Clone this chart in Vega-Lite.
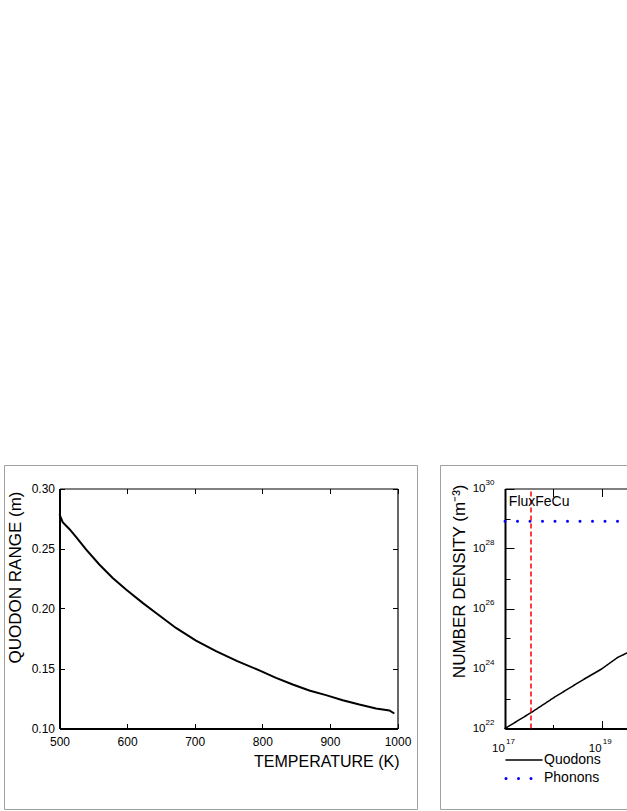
{
  "$schema": "https://vega.github.io/schema/vega-lite/v6.json",
  "padding": {"left": 3, "top": 464, "right": 0, "bottom": 3},
  "background": "white",
  "spacing": 23,
  "bounds": "flush",
  "config": {
    "font": "Liberation Sans",
    "view": {"stroke": "#a0a0a0", "strokeWidth": 1},
    "axis": {
      "domainColor": "black",
      "tickColor": "black",
      "labelColor": "black",
      "titleColor": "black",
      "labelFontSize": 12,
      "titleFontSize": 16,
      "titleFontWeight": "normal",
      "grid": false,
      "labelOverlap": false,
      "labelFlush": false,
      "tickWidth": 1
    },
    "legend": {
      "orient": "none", "legendX": 504, "legendY": 288, "title": null,
      "symbolType": "M-2,0H2", "symbolSize": 324, "symbolStrokeWidth": 2,
      "symbolOffset": 9, "labelOffset": 13,
      "labelFontSize": 14, "labelColor": "black",
      "padding": 0, "rowPadding": 4.4
    }
  },
  "datasets": {
    "range": [
      {"T": 500, "r": 0.2785},
      {"T": 504.7, "r": 0.2719},
      {"T": 514.5, "r": 0.2663},
      {"T": 524.4, "r": 0.2597},
      {"T": 539.2, "r": 0.2492},
      {"T": 558.9, "r": 0.2367},
      {"T": 578.7, "r": 0.2255},
      {"T": 598.4, "r": 0.2158},
      {"T": 623, "r": 0.2047},
      {"T": 642.8, "r": 0.1963},
      {"T": 672.3, "r": 0.1838},
      {"T": 701.9, "r": 0.1733},
      {"T": 731.5, "r": 0.1644},
      {"T": 763, "r": 0.1561},
      {"T": 795.6, "r": 0.1484},
      {"T": 820.3, "r": 0.1422},
      {"T": 845, "r": 0.1367},
      {"T": 869.5, "r": 0.1317},
      {"T": 894.2, "r": 0.1278},
      {"T": 919, "r": 0.1236},
      {"T": 943.5, "r": 0.12},
      {"T": 968.2, "r": 0.1167},
      {"T": 988, "r": 0.115},
      {"T": 995.3, "r": 0.1125}
    ],
    "density": [
      {"series": "Quodons", "x": 1e17, "y": 1e22},
      {"series": "Quodons", "x": 3.55e17, "y": 3.47e22},
      {"series": "Quodons", "x": 1.05e18, "y": 1.1e23},
      {"series": "Quodons", "x": 4.37e18, "y": 4.47e23},
      {"series": "Quodons", "x": 9.8e18, "y": 9.5e23},
      {"series": "Quodons", "x": 2.14e19, "y": 2.34e24},
      {"series": "Quodons", "x": 3.47e19, "y": 3.39e24},
      {"series": "Quodons", "x": 1e20, "y": 8.9e24},
      {"series": "Phonons", "x": 1e17, "y": 8.1e28},
      {"series": "Phonons", "x": 1e24, "y": 8.1e28}
    ],
    "flux": [
      {"x": 3.45e17, "y": 1e22, "y2": 1e30}
    ],
    "annot": [
      {"label": "FluxFeCu", "x": 1.2e17, "y": 2.6e29}
    ]
  },
  "hconcat": [
    {
      "width": 413,
      "height": 344,
      "data": {"name": "range"},
      "resolve": {"axis": {"x": "independent", "y": "independent"}},
      "layer": [
        {
          "mark": {"type": "line", "color": "black", "strokeWidth": 2},
          "encoding": {
            "x": {
              "field": "T", "type": "quantitative",
              "scale": {"domain": [500, 1000], "range": [55.5, 393.5], "nice": false, "zero": false},
              "axis": {
                "orient": "bottom", "offset": -80.5,
                "values": [500, 600, 700, 800, 900, 1000], "format": "d",
                "tickSize": -5, "domainWidth": 2, "labelPadding": 12.5,
                "title": "TEMPERATURE (K)", "titleAlign": "right", "titleBaseline": "alphabetic",
                "titleX": 395, "titleY": 37.5
              }
            },
            "y": {
              "field": "r", "type": "quantitative",
              "scale": {"domain": [0.1, 0.3], "range": [263.5, 23.5], "nice": false, "zero": false},
              "axis": {
                "orient": "left", "offset": -55.5,
                "values": [0.1, 0.15, 0.2, 0.25, 0.3], "format": ".2f",
                "tickSize": -5, "domainWidth": 2, "labelPadding": 10,
                "title": "QUODON RANGE (m)", "titleFontSize": 17, "titleAngle": 270,
                "titleAlign": "right", "titleBaseline": "alphabetic",
                "titleX": -39.2, "titleY": 26
              }
            }
          }
        },
        {
          "mark": {"type": "line", "strokeOpacity": 0},
          "encoding": {
            "x": {
              "field": "T", "type": "quantitative",
              "scale": {"domain": [500, 1000], "range": [55.5, 393.5], "nice": false, "zero": false},
              "axis": {
                "orient": "top", "offset": -23.5,
                "values": [500, 600, 700, 800, 900, 1000],
                "tickSize": -5, "domainWidth": 1, "labels": false, "title": null
              }
            },
            "y": {
              "field": "r", "type": "quantitative",
              "scale": {"domain": [0.1, 0.3], "range": [263.5, 23.5], "nice": false, "zero": false},
              "axis": {
                "orient": "right", "offset": -19.5,
                "values": [0.1, 0.15, 0.2, 0.25, 0.3],
                "tickSize": -5, "domainWidth": 1.2, "labels": false, "title": null
              }
            }
          }
        }
      ]
    },
    {
      "width": 413,
      "height": 344,
      "resolve": {"axis": {"x": "independent", "y": "independent"}},
      "layer": [
        {
          "data": {"name": "density"},
          "transform": [{"filter": "datum.series == 'Quodons'"}],
          "mark": {"type": "line", "strokeWidth": 1.5, "strokeCap": "round"},
          "encoding": {
            "x": {
              "field": "x", "type": "quantitative",
              "scale": {"type": "log", "domain": [1e17, 1e24], "range": [65, 403.5], "nice": false},
              "axis": {
                "orient": "bottom", "offset": -80.5,
                "values": [1e17, 1e18, 1e19, 1e20, 1e21, 1e22, 1e23, 1e24],
                "labelExpr": "round(log(datum.value)/LN10) % 2 == 1 ? '10' : ''",
                "tickSize": {"condition": {"test": "round(log(datum.value)/LN10) % 2 == 1", "value": -8}, "value": -4},
                "domainWidth": 2, "labelPadding": 21.5, "labelFontSize": 11.5, "labelOffset": -7, "title": null
              }
            },
            "y": {
              "field": "y", "type": "quantitative",
              "scale": {"type": "log", "domain": [1e22, 1e30], "range": [263.5, 23.5], "nice": false},
              "axis": {
                "orient": "left", "offset": -65,
                "values": [1e22, 1e23, 1e24, 1e25, 1e26, 1e27, 1e28, 1e29, 1e30],
                "labelExpr": "round(log(datum.value)/LN10) % 2 == 0 ? '10' : ''",
                "tickSize": {"condition": {"test": "round(log(datum.value)/LN10) % 2 == 0", "value": -9}, "value": -5},
                "domainWidth": 2, "labelPadding": 29, "labelFontSize": 11.5,
                "title": "NUMBER DENSITY (m⁻³)", "titleFontSize": 17, "titleAngle": 270,
                "titleAlign": "right", "titleBaseline": "alphabetic",
                "titleX": -40.7, "titleY": 19
              }
            },
            "color": {
              "field": "series", "type": "nominal",
              "scale": {"domain": ["Quodons", "Phonons"], "range": ["black", "#0000ff"]},
              "legend": {"encode": {"symbols": {"update": {"strokeCap": {"value": "round"}, "strokeWidth": {"signal": "datum.value == 'Phonons' ? 3 : 1.5"}}}}}
            },
            "strokeDash": {
              "field": "series", "type": "nominal",
              "scale": {"domain": ["Quodons", "Phonons"], "range": [[1, 0], [0, 12.5]]},
              "legend": {"encode": {"symbols": {"update": {"strokeCap": {"value": "round"}, "strokeWidth": {"signal": "datum.value == 'Phonons' ? 3 : 1.5"}}}}}
            }
          }
        },
        {
          "data": {"name": "density"},
          "transform": [{"filter": "datum.series == 'Phonons'"}],
          "mark": {"type": "line", "strokeWidth": 3, "strokeCap": "round"},
          "encoding": {
            "x": {"field": "x", "type": "quantitative", "scale": {"type": "log", "domain": [1e17, 1e24], "range": [65, 403.5], "nice": false}, "axis": null},
            "y": {"field": "y", "type": "quantitative", "scale": {"type": "log", "domain": [1e22, 1e30], "range": [263.5, 23.5], "nice": false}, "axis": null},
            "color": {
              "field": "series", "type": "nominal",
              "scale": {"domain": ["Quodons", "Phonons"], "range": ["black", "#0000ff"]},
              "legend": {"encode": {"symbols": {"update": {"strokeCap": {"value": "round"}, "strokeWidth": {"signal": "datum.value == 'Phonons' ? 3 : 1.5"}}}}}
            },
            "strokeDash": {
              "field": "series", "type": "nominal",
              "scale": {"domain": ["Quodons", "Phonons"], "range": [[1, 0], [0, 12.5]]},
              "legend": {"encode": {"symbols": {"update": {"strokeCap": {"value": "round"}, "strokeWidth": {"signal": "datum.value == 'Phonons' ? 3 : 1.5"}}}}}
            }
          }
        },
        {
          "data": {"name": "flux"},
          "mark": {"type": "rule", "color": "#ff0000", "strokeWidth": 1.5, "strokeDash": [5, 3]},
          "encoding": {
            "x": {"field": "x", "type": "quantitative", "scale": {"type": "log", "domain": [1e17, 1e24], "range": [65, 403.5], "nice": false}, "axis": null},
            "y": {"field": "y", "type": "quantitative", "scale": {"type": "log", "domain": [1e22, 1e30], "range": [263.5, 23.5], "nice": false}, "axis": null},
            "y2": {"field": "y2"}
          }
        },
        {
          "data": {"name": "annot"},
          "mark": {"type": "text", "align": "left", "baseline": "alphabetic", "fontSize": 14, "color": "black"},
          "encoding": {
            "x": {"field": "x", "type": "quantitative", "scale": {"type": "log", "domain": [1e17, 1e24], "range": [65, 403.5], "nice": false}, "axis": null},
            "y": {"field": "y", "type": "quantitative", "scale": {"type": "log", "domain": [1e22, 1e30], "range": [263.5, 23.5], "nice": false}, "axis": null},
            "text": {"field": "label"}
          }
        },
        {
          "data": {"name": "density"},
          "mark": {"type": "line", "strokeOpacity": 0},
          "encoding": {
            "x": {
              "field": "x", "type": "quantitative",
              "scale": {"type": "log", "domain": [1e17, 1e24], "range": [65, 403.5], "nice": false},
              "axis": {
                "orient": "bottom", "offset": -80.5,
                "values": [1e17, 1e19, 1e21, 1e23],
                "labelExpr": "format(round(log(datum.value)/LN10), 'd')",
                "ticks": false, "domain": false, "labelAlign": "left", "labelOffset": 0.5,
                "labelPadding": 9, "labelFontSize": 8, "title": null
              }
            },
            "y": {
              "field": "y", "type": "quantitative",
              "scale": {"type": "log", "domain": [1e22, 1e30], "range": [263.5, 23.5], "nice": false},
              "axis": {
                "orient": "left", "offset": -65,
                "values": [1e22, 1e24, 1e26, 1e28, 1e30],
                "labelExpr": "format(round(log(datum.value)/LN10), 'd')",
                "ticks": false, "domain": false, "labelOffset": -6,
                "labelPadding": 11, "labelFontSize": 8, "title": null
              }
            }
          }
        },
        {
          "data": {"name": "density"},
          "mark": {"type": "line", "strokeOpacity": 0},
          "encoding": {
            "x": {
              "field": "x", "type": "quantitative",
              "scale": {"type": "log", "domain": [1e17, 1e24], "range": [65, 403.5], "nice": false},
              "axis": {
                "orient": "top", "offset": -23.5,
                "values": [1e17, 1e18, 1e19, 1e20, 1e21, 1e22, 1e23, 1e24],
                "tickSize": -8, "domainWidth": 1, "labels": false, "title": null
              }
            },
            "y": {
              "field": "y", "type": "quantitative",
              "scale": {"type": "log", "domain": [1e22, 1e30], "range": [263.5, 23.5], "nice": false},
              "axis": {
                "orient": "right", "offset": -9.5,
                "values": [1e22, 1e23, 1e24, 1e25, 1e26, 1e27, 1e28, 1e29, 1e30],
                "tickSize": -6, "domainWidth": 1.2, "labels": false, "title": null
              }
            }
          }
        }
      ]
    }
  ]
}
